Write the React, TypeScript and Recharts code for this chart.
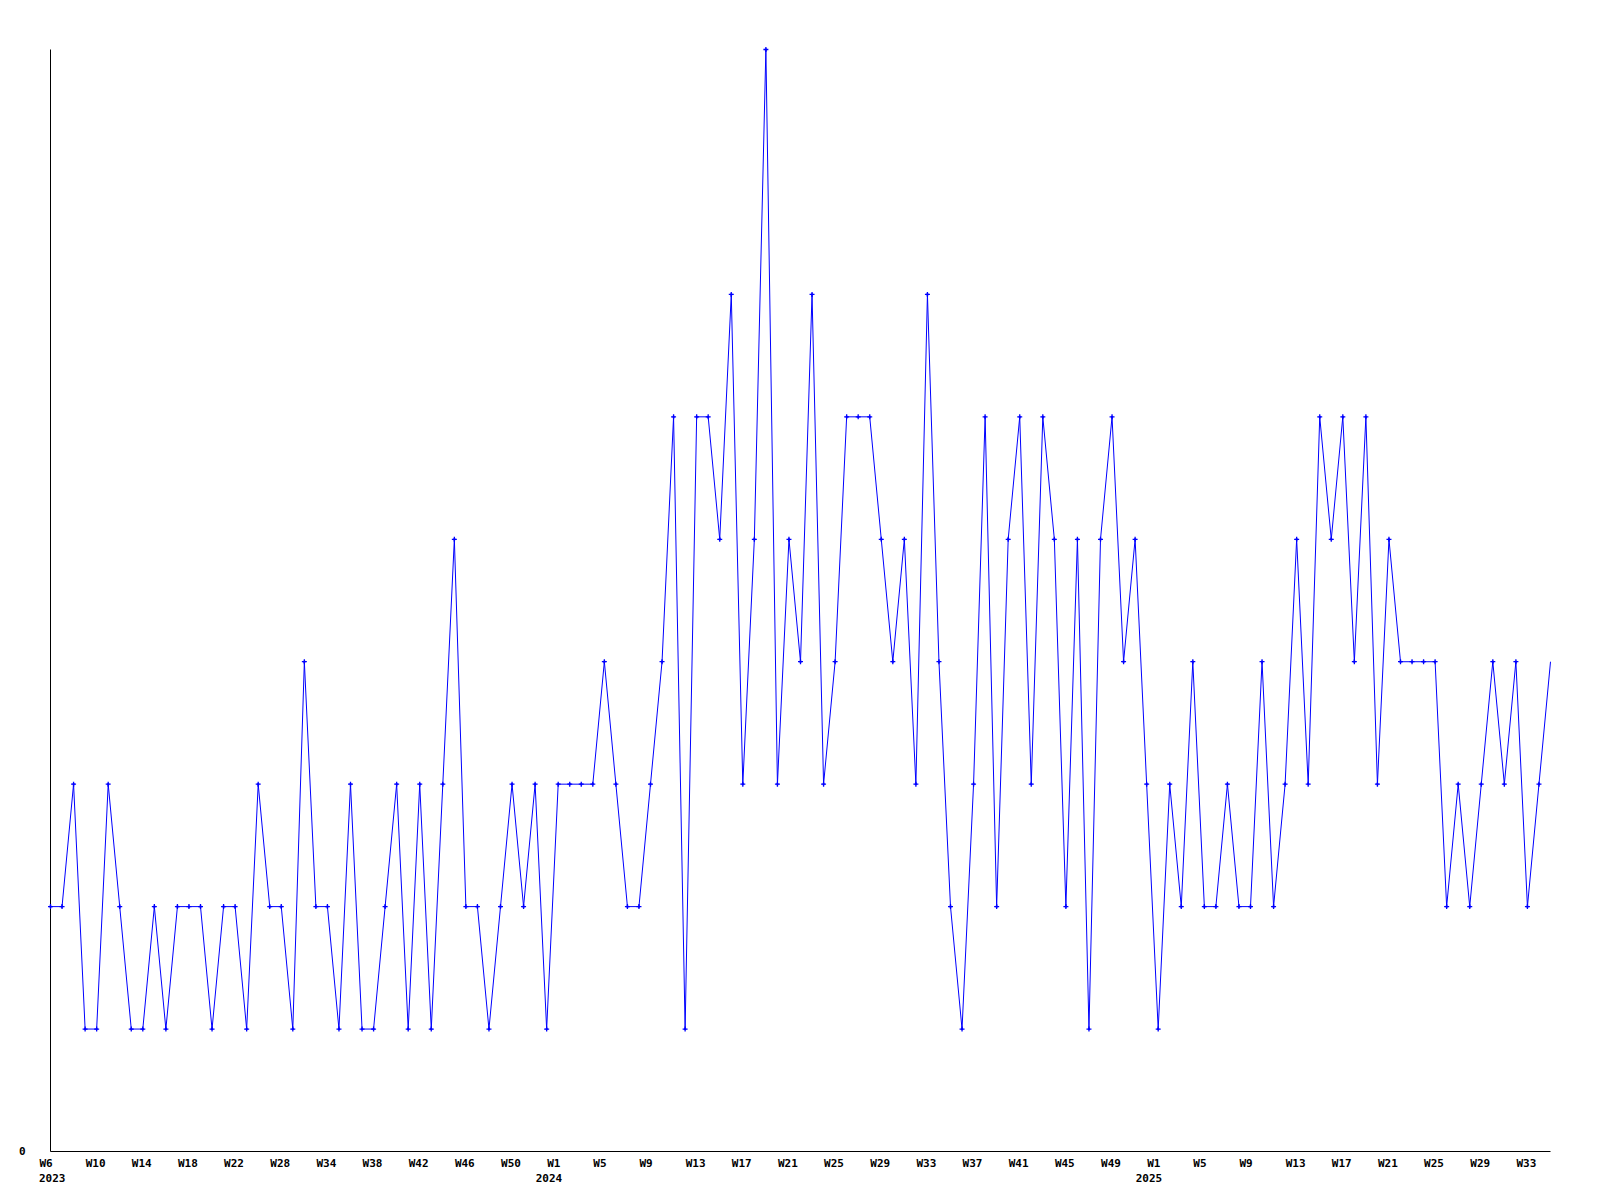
import React from 'react';
import { LineChart, Line, XAxis, YAxis } from 'recharts';

// ISO-style week numbers shown on the axis, per year
const weeks2023 = [6, 7, 8, 9, 10, 11, 12, 13, 14, 15, 16, 17, 18, 19, 20, 21, 22, 23, 25, 26, 28, 29, 31, 32, 34, 35, 36, 37, 38, 39, 40, 41, 42, 43, 44, 45, 46, 47, 48, 49, 50, 51, 52, 53];
const weeks2024 = [1, 2, 3, 4, 5, 6, 7, 8, 9, 10, 11, 12, 13, 14, 15, 16, 17, 18, 19, 20, 21, 22, 23, 24, 25, 26, 27, 28, 29, 30, 31, 32, 33, 34, 35, 36, 37, 38, 39, 40, 41, 42, 43, 44, 45, 46, 47, 48, 49, 50, 51, 52];
const weeks2025 = [1, 2, 3, 4, 5, 6, 7, 8, 9, 10, 11, 12, 13, 14, 15, 16, 17, 18, 19, 20, 21, 22, 23, 24, 25, 26, 27, 28, 29, 30, 31, 32, 33, 34, 35];

// weekly counts
const values2023 = [2, 2, 3, 1, 1, 3, 2, 1, 1, 2, 1, 2, 2, 2, 1, 2, 2, 1, 3, 2, 2, 1, 4, 2, 2, 1, 3, 1, 1, 2, 3, 1, 3, 1, 3, 5, 2, 2, 1, 2, 3, 2, 3, 1];
const values2024 = [3, 3, 3, 3, 4, 3, 2, 2, 3, 4, 6, 1, 6, 6, 5, 7, 3, 5, 9, 3, 5, 4, 7, 3, 4, 6, 6, 6, 5, 4, 5, 3, 7, 4, 2, 1, 3, 6, 2, 5, 6, 3, 6, 5, 2, 5, 1, 5, 6, 4, 5, 3];
const values2025 = [1, 3, 2, 4, 2, 2, 3, 2, 2, 4, 2, 3, 5, 3, 6, 5, 6, 4, 6, 3, 5, 4, 4, 4, 4, 2, 3, 2, 3, 4, 3, 4, 2, 3, 4];

const years = [2023, 2024, 2025];
const weeksByYear = [weeks2023, weeks2024, weeks2025];
const valuesByYear = [values2023, values2024, values2025];

const yTicks = [0];
const yDomain = [0, 9];

type Row = { key: string; week: string; year: number; showYear: boolean; value: number };

const rows: Row[] = [];
years.forEach((yr, yi) => {
  weeksByYear[yi].forEach((w, i) => {
    rows.push({
      key: `${yr}-W${w}`,
      week: `W${w}`,
      year: yr,
      showYear: i === 0,
      value: valuesByYear[yi][i],
    });
  });
});
const rowByKey: Record<string, Row> = {};
rows.forEach((r) => (rowByKey[r.key] = r));

const FONT = "'DejaVu Sans Mono', 'Liberation Mono', monospace";
const BLUE = '#0000ff';
const LEFT_LIMIT = 39;

const WeekTick = (props: any) => {
  const { x, y, payload } = props;
  const r = rowByKey[payload.value];
  if (!r) return null;
  return (
    <g>
      <text x={x - 11} y={y} dy={7} textAnchor="start" fontFamily={FONT} fontSize={11} fontWeight="bold" fill="#000">
        {r.week}
      </text>
      {r.showYear && (
        <text x={Math.max(LEFT_LIMIT, x - 22.5)} y={y} dy={22} textAnchor="start" fontFamily={FONT} fontSize={11} fontWeight="bold" fill="#000">
          {r.year}
        </text>
      )}
    </g>
  );
};

const PlusDot = (props: any) => {
  const { cx, cy, index } = props;
  if (cx == null || cy == null || index === rows.length - 1) return <g key={`d${index}`} />;
  return (
    <g key={`d${index}`}>
      <path d={`M${cx - 2.5},${cy}h5M${cx},${cy - 2.5}v5`} stroke={BLUE} strokeWidth={1.3} fill="none" />
      <rect x={cx - 1} y={cy - 1} width={2} height={2} fill={BLUE} />
    </g>
  );
};

export default function App() {
  return (
    <div style={{ position: 'absolute', left: 0, top: 0, width: 1600, height: 1200, background: '#fff' }}>
      <LineChart width={1600} height={1200} data={rows} margin={{ top: 49.5, right: 49.5, bottom: 7.5, left: 0.5 }}>
        <XAxis
          dataKey="key"
          type="category"
          interval={3}
          tick={<WeekTick />}
          tickLine={false}
          tickSize={0}
          tickMargin={8}
          height={41}
          axisLine={{ stroke: '#000', strokeWidth: 1 }}
        />
        <YAxis
          type="number"
          domain={yDomain}
          ticks={yTicks}
          width={50}
          tickLine={false}
          tickSize={0}
          tickMargin={25}
          axisLine={{ stroke: '#000', strokeWidth: 1 }}
          tick={{ fontFamily: FONT, fontSize: 11, fontWeight: 'bold', fill: '#000' }}
        />
        <Line
          type="linear"
          dataKey="value"
          stroke={BLUE}
          strokeWidth={1}
          dot={<PlusDot />}
          activeDot={false}
          isAnimationActive={false}
        />
      </LineChart>
    </div>
  );
}
